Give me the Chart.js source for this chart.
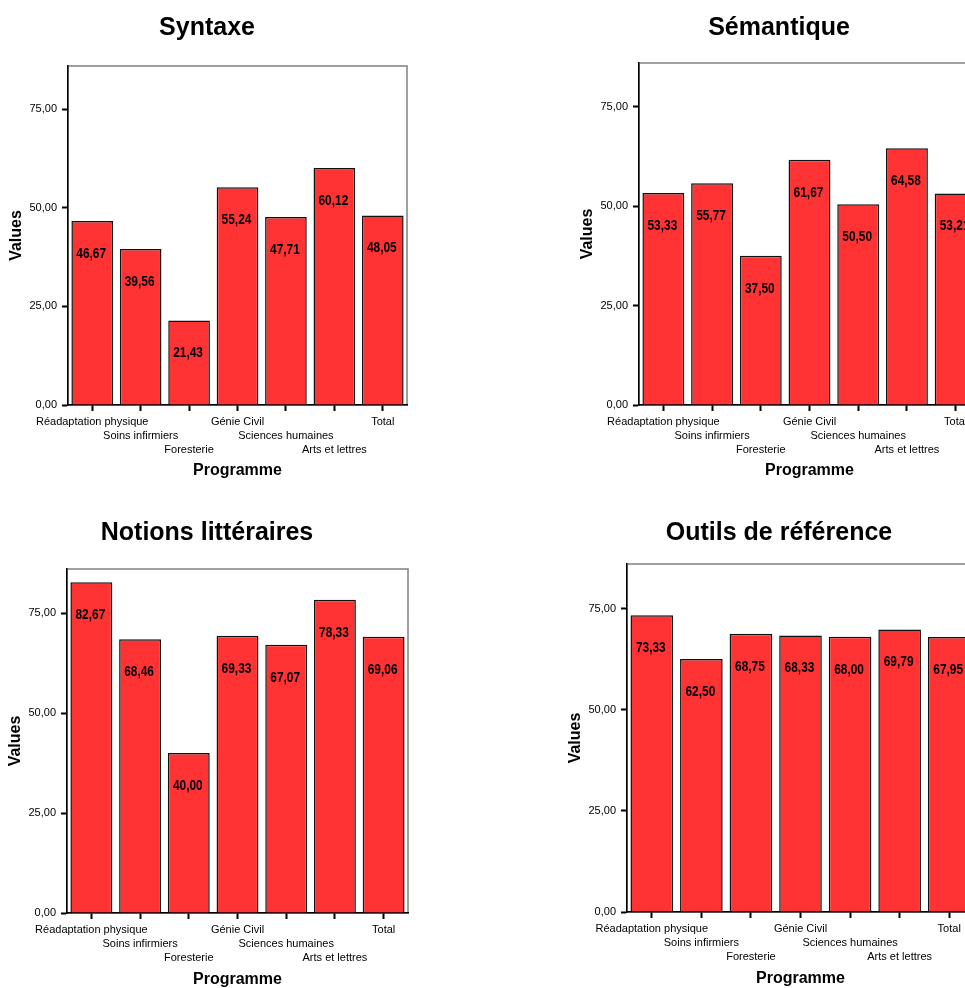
<!DOCTYPE html>
<html>
<head>
<meta charset="utf-8">
<script src="https://cdn.jsdelivr.net/npm/chart.js@4/dist/chart.umd.min.js"></script>
<style>
  html, body { margin: 0; padding: 0; background: #fff; }
  #page { position: relative; width: 965px; height: 988px; overflow: hidden; background: #fff; }
  #page canvas { position: absolute; }
</style>
</head>
<body>
<div id="page">
  <canvas id="syntaxe"></canvas>
  <canvas id="semantique"></canvas>
  <canvas id="notions"></canvas>
  <canvas id="outils"></canvas>
</div>
<script>
const programmes = [
  "Réadaptation physique",
  "Soins infirmiers",
  "Foresterie",
  "Génie Civil",
  "Sciences humaines",
  "Arts et lettres",
  "Total",
];
const syntaxe = [46.67, 39.56, 21.43, 55.24, 47.71, 60.12, 48.05];
const semantique = [53.33, 55.77, 37.5, 61.67, 50.5, 64.58, 53.21];
const notions = [82.67, 68.46, 40.0, 69.33, 67.07, 78.33, 69.06];
const outils = [73.33, 62.5, 68.75, 68.33, 68.0, 69.79, 67.95];
const yTicks = [0, 25, 50, 75];
const yMax = 86;

// where each SPSS panel sits on the page
const panels = [
  { id: "syntaxe", title: "Syntaxe", values: syntaxe, left: 0, top: 0, width: 414, titleTop: 13, titleBottom: 23, plotBottom: 405, programmeY: 471, gutter: 0 },
  { id: "semantique", title: "Sémantique", values: semantique, left: 571, top: 0, width: 416, titleTop: 13, titleBottom: 20, plotBottom: 405, programmeY: 471, gutter: 0 },
  { id: "notions", title: "Notions littéraires", values: notions, left: -1, top: 500, width: 416, titleTop: 18, titleBottom: 21, plotBottom: 413, programmeY: 480, gutter: 0 },
  { id: "outils", title: "Outils de référence", values: outils, left: 559, top: 500, width: 440, titleTop: 18, titleBottom: 16, plotBottom: 412, programmeY: 479, gutter: 18 },
];

const canvasHeight = 500;
const fmt = (v) => v.toFixed(2).replace(".", ",");

const frame = {
  id: "frame",
  beforeDraw(chart) {
    const { ctx, chartArea } = chart;
    ctx.save();
    ctx.strokeStyle = "#808080";
    ctx.lineWidth = 1.5;
    ctx.strokeRect(chartArea.left, chartArea.top, chartArea.right - chartArea.left, chartArea.bottom - chartArea.top);
    ctx.restore();
  },
};

// value printed inside each bar, a bit below its top, in a narrow bold face
const barLabels = {
  id: "barLabels",
  afterDatasetsDraw(chart) {
    const { ctx } = chart;
    const meta = chart.getDatasetMeta(0);
    const data = chart.data.datasets[0].data;
    ctx.save();
    ctx.font = "bold 14px 'Liberation Sans', Arial, sans-serif";
    ctx.fillStyle = "#000";
    ctx.textAlign = "center";
    ctx.textBaseline = "middle";
    meta.data.forEach((bar, i) => {
      ctx.save();
      ctx.translate(bar.x - 1, bar.y + 33);
      ctx.scale(0.85, 1);
      ctx.fillText(fmt(data[i]), 0, 0);
      ctx.restore();
    });
    ctx.restore();
  },
};

const tickFont = { family: "'Liberation Sans', Arial, sans-serif", size: 11, lineHeight: 14 / 11 };
const titleFont = { family: "'Liberation Sans', Arial, sans-serif", size: 16, weight: "bold", lineHeight: 1.2 };

panels.forEach((p) => {
  const canvas = document.getElementById(p.id);
  canvas.width = p.width;
  canvas.height = canvasHeight;
  canvas.style.left = p.left + "px";
  canvas.style.top = p.top + "px";

  const scales = {
    x: {
      grid: { display: true, drawOnChartArea: false, offset: false, tickLength: 6, tickWidth: 2, tickColor: "#000" },
      border: { color: "#000", width: 1.5 },
      ticks: {
        color: "#000",
        font: tickFont,
        padding: 4,
        maxRotation: 0,
        minRotation: 0,
        autoSkip: false,
        // SPSS staggers the labels on three rows
        callback: (value, index) => {
          const lines = ["", "", ""];
          lines[index % 3] = programmes[index];
          return lines.slice(0, (index % 3) + 1);
        },
      },
      title: {
        display: true,
        text: "Programme",
        color: "#000",
        font: titleFont,
        padding: { top: 0, bottom: canvasHeight - p.programmeY - 9.6 },
      },
      afterFit: (s) => { s.height = canvasHeight - p.plotBottom; },
    },
    y: {
      min: 0,
      max: yMax,
      grid: { display: true, drawOnChartArea: false, tickLength: 6, tickWidth: 2, tickColor: "#000" },
      border: { color: "#000", width: 1.5 },
      ticks: { color: "#000", font: tickFont, padding: 5, callback: (v) => fmt(v) },
      afterBuildTicks: (s) => { s.ticks = yTicks.map((v) => ({ value: v })); },
      title: {
        display: true,
        text: "Values",
        color: "#000",
        font: titleFont,
        padding: { top: 0, bottom: 0 },
      },
      afterFit: (s) => { s.width = 61; },
    },
  };
  if (p.gutter > 0) {
    scales.gutter = {
      type: "linear",
      position: "right",
      display: true,
      grid: { display: false, drawTicks: false },
      border: { display: false },
      ticks: { display: false },
      afterFit: (s) => { s.width = p.gutter; },
    };
  }

  new Chart(canvas, {
    type: "bar",
    data: {
      labels: programmes,
      datasets: [
        {
          data: p.values,
          backgroundColor: "#FF3333",
          borderColor: "#111",
          borderWidth: 1.5,
          categoryPercentage: 1,
          barPercentage: 0.86,
        },
      ],
    },
    options: {
      responsive: false,
      animation: false,
      devicePixelRatio: 1,
      layout: { padding: { left: 7, right: 7, top: 0, bottom: 0 } },
      plugins: {
        legend: { display: false },
        tooltip: { enabled: false },
        title: {
          display: true,
          text: p.title,
          color: "#000",
          font: { family: "'Liberation Sans', Arial, sans-serif", size: 25, weight: "bold", lineHeight: 1.2 },
          padding: { top: p.titleTop, bottom: p.titleBottom },
        },
      },
      scales: scales,
    },
    plugins: [frame, barLabels],
  });
});
</script>
</body>
</html>
